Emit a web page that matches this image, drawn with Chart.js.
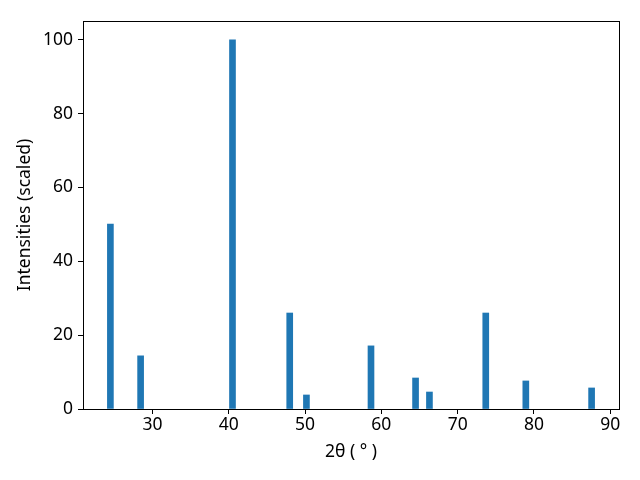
<!DOCTYPE html>
<html>
<head>
<meta charset="utf-8">
<script src="https://cdn.jsdelivr.net/npm/chart.js@4"></script>
<style>
  html, body { margin: 0; padding: 0; background: #fff; }
  #wrap { width: 640px; height: 480px; }
</style>
</head>
<body>
<div id="wrap"><canvas id="chart" width="640" height="480"></canvas></div>
<script>
// peak positions (2θ, degrees) and scaled intensities
const angles = [24.49, 28.45, 40.49, 47.99, 50.18, 58.64, 64.48, 66.30, 73.68, 78.93, 87.55];
const intensities = [50.1, 14.4, 100, 26.0, 3.8, 17.1, 8.4, 4.6, 26.0, 7.6, 5.7];
const xTicks = [30, 40, 50, 60, 70, 80, 90];
const yTicks = [0, 20, 40, 60, 80, 100];

const font = { family: 'Noto Sans', size: 17.5 };

// frame around the plot area (matplotlib style)
const frame = {
  id: 'frame',
  afterDraw(chart) {
    const { ctx, chartArea: a } = chart;
    ctx.save();
    ctx.strokeStyle = '#000';
    ctx.lineWidth = 1;
    ctx.strokeRect(Math.round(a.left) + 0.5, Math.round(a.top) + 0.5,
      Math.round(a.right - a.left), Math.round(a.bottom - a.top));
    ctx.restore();
  }
};

new Chart(document.getElementById('chart'), {
  type: 'bar',
  data: {
    datasets: [{
      data: angles.map((a, i) => ({ x: a, y: intensities[i] })),
      backgroundColor: '#1f77b4',
      borderWidth: 0,
      barThickness: 6
    }]
  },
  options: {
    responsive: false,
    animation: false,
    layout: { padding: { left: 0, right: 21, top: 21, bottom: 0 } },
    plugins: { legend: { display: false }, tooltip: { enabled: false } },
    scales: {
      x: {
        type: 'linear',
        offset: false,
        min: 20.9,
        max: 91.14,
        afterBuildTicks: s => { s.ticks = xTicks.map(v => ({ value: v })); },
        afterFit: s => { s.height = 71; },
        grid: { offset: false, drawOnChartArea: false, drawTicks: true, tickLength: 5, color: '#000' },
        border: { color: '#000', width: 1 },
        ticks: { color: '#000', font, padding: 1, maxRotation: 0 },
        title: { display: true, text: '2θ ( ° )', color: '#000', font, padding: { top: 0, bottom: 17 } }
      },
      y: {
        type: 'linear',
        min: 0,
        max: 105.1,
        afterBuildTicks: s => { s.ticks = yTicks.map(v => ({ value: v })); },
        afterFit: s => { s.width = 83; },
        grid: { drawOnChartArea: false, drawTicks: true, tickLength: 5, color: '#000' },
        border: { color: '#000', width: 1 },
        ticks: { color: '#000', font, padding: 5 },
        title: { display: true, text: 'Intensities (scaled)', color: '#000', font, padding: { top: 15, bottom: 0 } }
      }
    }
  },
  plugins: [frame]
});
</script>
</body>
</html>
